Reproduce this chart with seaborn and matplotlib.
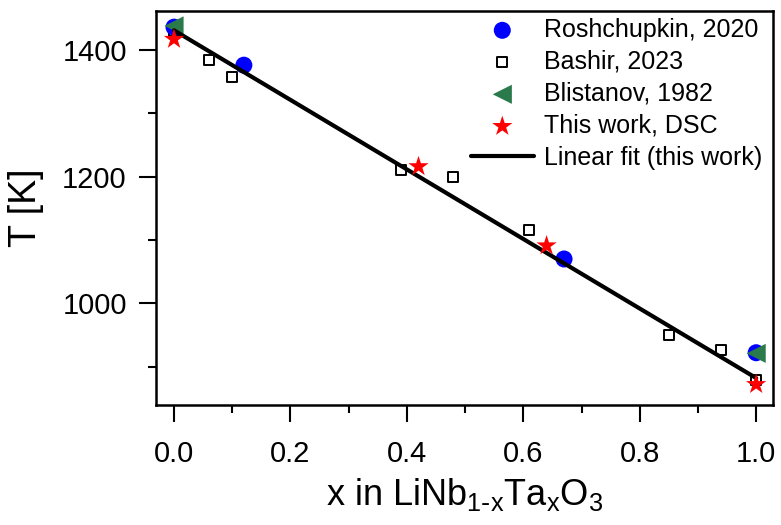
import matplotlib
matplotlib.use("Agg")
import matplotlib.pyplot as plt
import seaborn as sns
from matplotlib.ticker import MultipleLocator

# values
rosh_x = [0.0, 0.12, 0.67, 1.0]
rosh_T = [1436, 1376, 1070, 922]

bashir_x = [0.0, 0.06, 0.10, 0.39, 0.48, 0.61, 0.85, 0.94, 1.0]
bashir_T = [1430, 1384, 1358, 1211, 1200, 1115, 950, 927, 879]

blist_x = [0.0, 1.0]
blist_T = [1438, 921]

dsc_x = [0.0, 0.42, 0.64, 1.0]
dsc_T = [1417, 1216, 1091, 872]

fit_x = [0.0, 1.0]
fit_T = [1431, 882]

sns.set_style("ticks")
plt.rcParams['font.family'] = ['Liberation Sans', 'DejaVu Sans']
plt.rcParams['mathtext.default'] = 'regular'
plt.rcParams['text.color'] = 'black'
plt.rcParams['axes.labelcolor'] = 'black'
plt.rcParams['xtick.color'] = 'black'
plt.rcParams['ytick.color'] = 'black'

fig, ax = plt.subplots(figsize=(7.81, 5.25), dpi=100)
fig.subplots_adjust(left=0.1997, right=0.9898, top=0.979, bottom=0.2286)

sns.scatterplot(x=rosh_x, y=rosh_T, marker='o', color='#0000ff', s=150,
                edgecolor='none', label='Roshchupkin, 2020', ax=ax, zorder=3)
sns.scatterplot(x=bashir_x, y=bashir_T, marker='s', facecolor='white', s=60,
                edgecolor='black', linewidth=1.4, label='Bashir, 2023', ax=ax, zorder=2)
sns.scatterplot(x=blist_x, y=blist_T, marker='<', color='#2b7a4b', s=190,
                edgecolor='none', label='Blistanov, 1982', ax=ax, zorder=4)
sns.scatterplot(x=dsc_x, y=dsc_T, marker='*', color='#ff0000', s=235,
                edgecolor='none', label='This work, DSC', ax=ax, zorder=6)
sns.lineplot(x=fit_x, y=fit_T, color='black', linewidth=3,
             label='Linear fit (this work)', ax=ax, zorder=5)

ax.set_xlim(-0.031, 1.029)
ax.set_ylim(839.5, 1461.5)
ax.xaxis.set_major_locator(MultipleLocator(0.2))
ax.xaxis.set_minor_locator(MultipleLocator(0.1))
ax.yaxis.set_major_locator(MultipleLocator(200))
ax.yaxis.set_minor_locator(MultipleLocator(100))
ax.set_xticks([0.0, 0.2, 0.4, 0.6, 0.8, 1.0])
ax.set_xticklabels(['0.0', '0.2', '0.4', '0.6', '0.8', '1.0'])

for s in ax.spines.values():
    s.set_linewidth(1.8)
    s.set_color('black')
ax.tick_params(which='major', length=12, width=1.5, labelsize=21, color='black')
ax.tick_params(axis='x', which='major', pad=13)
ax.tick_params(axis='y', which='major', pad=9)
ax.tick_params(which='minor', length=6, width=1.5, color='black')

ax.set_xlabel(r'x in LiNb$_{1\text{-}x}$Ta$_x$O$_3$', fontsize=26, labelpad=6)
ax.set_ylabel('T [K]', fontsize=27, labelpad=13)

ax.legend(loc='upper right', bbox_to_anchor=(0.998, 1.008), frameon=False,
          fontsize=18, handlelength=2.5, handletextpad=0.4,
          labelspacing=0.32, borderaxespad=0.0)

fig.savefig('out.png', dpi=100)
